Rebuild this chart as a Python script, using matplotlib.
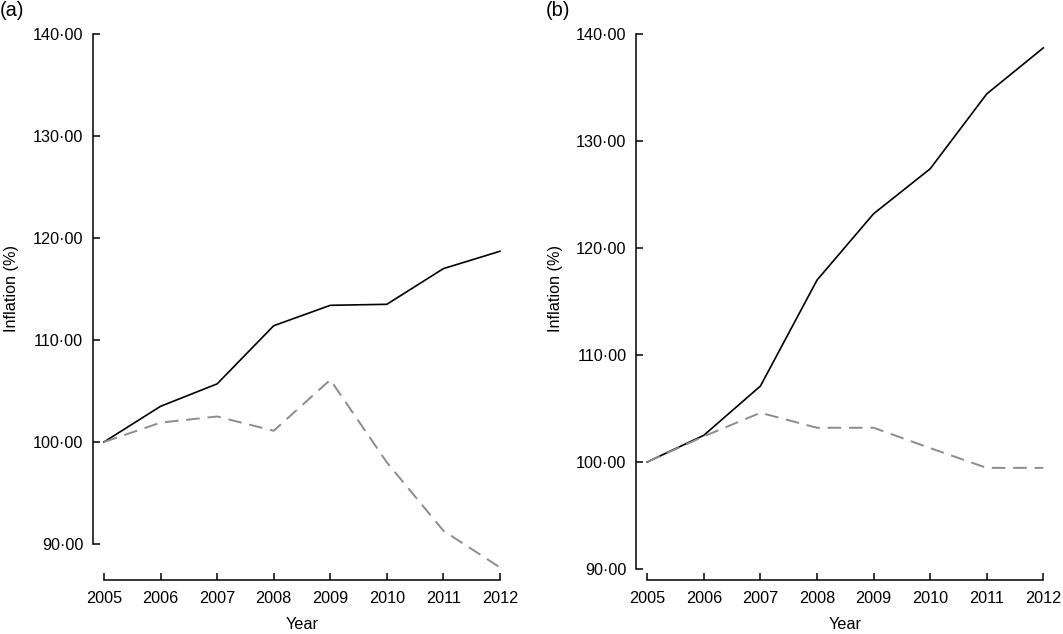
#!/usr/bin/env python3

import matplotlib
matplotlib.use('Agg')
from matplotlib import pyplot as plt
from matplotlib.ticker import FuncFormatter

years = [2005, 2006, 2007, 2008, 2009, 2010, 2011, 2012]

# panel (a)
a_solid = [100.0, 103.5, 105.7, 111.4, 113.4, 113.5, 117.0, 118.7]
a_dashed = [100.0, 101.9, 102.5, 101.1, 106.1, 98.0, 91.3, 87.7]

# panel (b)
b_solid = [100.0, 102.5, 107.1, 117.0, 123.2, 127.4, 134.4, 138.7]
b_dashed = [100.0, 102.4, 104.6, 103.2, 103.2, 101.3, 99.45, 99.45]

y_ticks = [90, 100, 110, 120, 130, 140]

plt.rcParams['font.family'] = ['Liberation Sans', 'DejaVu Sans']
plt.rcParams['font.size'] = 11.7

W, H = 1063, 634
fig = plt.figure(figsize=(W / 100, H / 100), dpi=100)


def dot_fmt(v, pos):
    return ('%.2f' % v).replace('.', '\u00b7')


def make_panel(left_px, ymin, label_x, solid, dashed):
    # axes spans from top y=34 px to x spine at y=580 px
    ax = fig.add_axes([left_px / W, 1 - 580 / H, 396 / W, 546 / H])
    ax.plot(years, solid, color='black', lw=1.2, clip_on=False)
    ax.plot(years, dashed, color='#8c8c8c', lw=1.4, dashes=(7, 4),
            clip_on=False)
    ax.set_xlim(2005, 2012)
    ax.set_ylim(ymin, 140)
    ax.set_xticks(years)
    ax.set_yticks(y_ticks)
    ax.yaxis.set_major_formatter(FuncFormatter(dot_fmt))
    for s in ['top', 'right']:
        ax.spines[s].set_visible(False)
    ax.spines['left'].set_position(('outward', 8))
    ax.spines['left'].set_bounds(90, 140)
    ax.spines['bottom'].set_bounds(2005, 2012)
    for s in ['left', 'bottom']:
        ax.spines[s].set_linewidth(1.1)
    ax.tick_params(axis='both', direction='in', length=5, width=1.1)
    ax.tick_params(axis='y', pad=7)
    ax.tick_params(axis='x', pad=8)
    ax.set_xlabel('Year', labelpad=8)
    ax.set_ylabel('Inflation (%)')
    ax.yaxis.set_label_coords(label_x, 0.533)
    ax.patch.set_alpha(0)
    return ax


make_panel(104, 90 - 36 / 10.2, -0.215, a_solid, a_dashed)
make_panel(647.3, 90 - 11 / 10.7, -0.213, b_solid, b_dashed)

fig.text(0 / W, 1 - 1 / H, '(a)', ha='left', va='top', fontsize=14.5)
fig.text(546 / W, 1 - 1 / H, '(b)', ha='left', va='top', fontsize=14.5)

fig.savefig('out.png', dpi=100)
